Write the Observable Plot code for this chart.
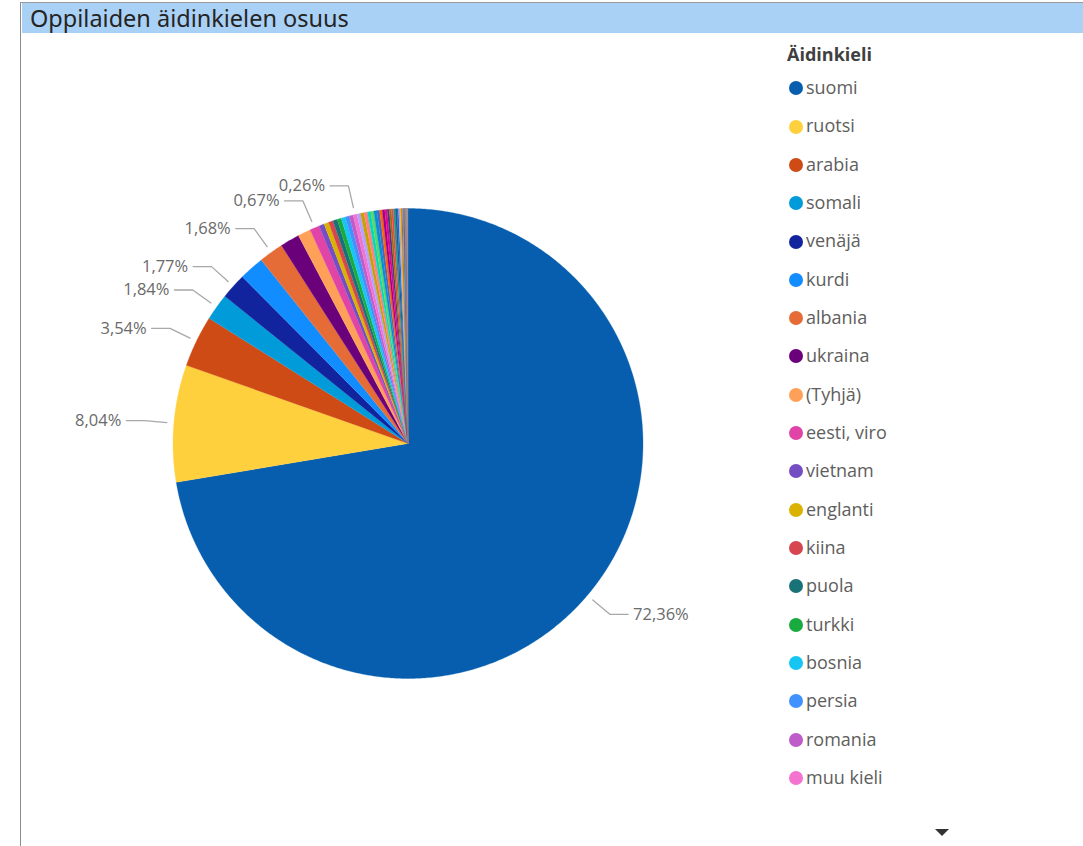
<!DOCTYPE html>
<html><head><meta charset="utf-8">
<script src="https://cdn.jsdelivr.net/npm/d3@7"></script>
<script src="https://cdn.jsdelivr.net/npm/@observablehq/plot@0.6"></script>
<style>
html,body{margin:0;padding:0;background:#fff;width:1083px;height:846px;overflow:hidden;font-family:"Segoe UI","Open Sans",sans-serif;}
#frame{position:absolute;left:20px;top:2px;width:1063px;height:844px;border-left:1.5px solid #8c8c8c;border-top:1px solid #9a9a9a;box-sizing:border-box;}
#titlebar{position:absolute;left:22px;top:3px;right:0;height:30px;background:#A9D1F6;}
#title{position:absolute;left:30px;top:3px;height:30px;line-height:31px;font-size:23.5px;color:#252423;font-family:"DIN","Noto Sans",sans-serif;}
#chart{position:absolute;left:0;top:40px;}
.lg-title{position:absolute;left:787px;top:41px;font-size:18px;font-weight:bold;color:#404040;line-height:26px;}
.lg-item{position:absolute;left:789px;height:24px;line-height:24px;font-size:18px;color:#605E5C;white-space:nowrap;}
.lg-dot{display:inline-block;width:14px;height:14px;border-radius:50%;vertical-align:middle;margin-right:3px;position:relative;top:-1px;}
#arrow{position:absolute;left:935px;top:829px;width:0;height:0;border-left:7px solid transparent;border-right:7px solid transparent;border-top:7px solid #333;}
</style></head>
<body>
<div id="frame"></div>
<div id="titlebar"></div>
<div id="title">Oppilaiden äidinkielen osuus</div>
<div id="chart"></div>
<div id="legend"></div>
<div id="arrow"></div>
<script>
// Categories (legend order = slice order, clockwise from 12 o'clock)
const names = ["suomi","ruotsi","arabia","somali","venäjä","kurdi","albania","ukraina","(Tyhjä)","eesti, viro","vietnam","englanti","kiina","puola","turkki","bosnia","persia","romania","muu kieli",
  "thai","espanja","saksa","ranska","tigrinja","dari","pashto","urdu","bengali","nepali","tagalog","unkari","liettua","latvia","bulgaria","kreikka","italia","japani","portugali","hindi","amhara","swahili","kantoni","kroatia","serbia","slovakki","tšekki","hollanti","tamili"];
// Shares in percent
const values = [72.36,8.04,3.54,1.84,1.77,1.72,1.68,1.33,0.88,0.67,0.36,0.33,0.31,0.30,0.29,0.28,0.28,0.27,0.26,
  0.25,0.24,0.24,0.22,0.21,0.21,0.19,0.18,0.17,0.16,0.15,0.14,0.13,0.13,0.12,0.11,0.10,0.09,0.08,0.07,0.06,0.06,0.05,0.04,0.03,0.02,0.02,0.01,0.01];
const colors = ["#075EAE","#FFD03D","#CF4B16","#009BD8","#12239E","#118DFF","#E66C37","#6B007B","#FFA058","#E044A7","#744EC2","#D9B300","#D64550","#197278","#1AAB40","#15C6F4","#4092FF","#BE5DC9","#F472D0",
  "#B5A1FF","#C4A200","#FF8080","#00DBBC","#5BD667","#0091D5","#4668C5","#FF6300","#99008A","#EC008C","#533285","#99700A","#FF4141","#1F9A85","#255A91","#0D6ABF","#B3A0E5","#E8B700","#C85A1E","#53A8D6","#7C2C8E","#2D9B5E","#E15A7F","#1A4FA0","#F2A43B","#6FC7C0","#9E2A5C","#8CBF3F","#D07BE0"];
// Slices that carry a data label
const labelNames = ["suomi","ruotsi","arabia","somali","venäjä","albania","eesti, viro","muu kieli"];
const legendCount = 19;

const total = d3.sum(values);
let acc = 0;
const slices = names.map((n, i) => {
  const a0 = acc / total * 2 * Math.PI; acc += values[i];
  const a1 = acc / total * 2 * Math.PI;
  return {name: n, value: values[i], a0, a1};
});
const poly = [];
for (const s of slices) {
  poly.push({name: s.name, x: 0, y: 0});
  const n = Math.max(2, Math.ceil((s.a1 - s.a0) / (Math.PI / 360)));
  for (let k = 0; k <= n; k++) {
    const a = s.a0 + (s.a1 - s.a0) * k / n;
    poly.push({name: s.name, x: Math.sin(a), y: Math.cos(a)});
  }
}
const R1 = 1.03, R2 = 1.125, H = 0.078;
const fmt = v => d3.format(".2f")(v).replace(".", ",") + "%";
const leaders = [], texts = [];
for (const s of slices.filter(s => labelNames.includes(s.name))) {
  const m = (s.a0 + s.a1) / 2;
  const side = Math.sin(m) < 0 ? -1 : 1;
  const p2x = R2 * Math.sin(m), p2y = R2 * Math.cos(m);
  leaders.push({name: s.name, x: R1 * Math.sin(m), y: R1 * Math.cos(m)},
               {name: s.name, x: p2x, y: p2y},
               {name: s.name, x: p2x + side * H, y: p2y});
  texts.push({name: s.name, x: p2x + side * H, y: p2y, side, label: fmt(s.value)});
}

const chart = Plot.plot({
  width: 780, height: 806,
  marginLeft: 172.5, marginRight: 137.5, marginTop: 168, marginBottom: 168,
  x: {domain: [-1, 1], axis: null},
  y: {domain: [-1, 1], axis: null},
  color: {domain: names, range: colors},
  style: {background: "transparent", overflow: "visible", fontFamily: "'Segoe UI','Open Sans',sans-serif"},
  marks: [
    Plot.line(poly, {x: "x", y: "y", z: "name", fill: "name", stroke: "name", strokeWidth: 0.3, curve: "linear"}),
    Plot.line(leaders, {x: "x", y: "y", z: "name", stroke: "#A8A8A8", strokeWidth: 1.3}),
    Plot.text(texts.filter(d => d.side < 0), {x: "x", y: "y", text: "label", textAnchor: "end", dx: -5, fill: "#6A6A6A", fontSize: 16.5}),
    Plot.text(texts.filter(d => d.side > 0), {x: "x", y: "y", text: "label", textAnchor: "start", dx: 5, fill: "#6A6A6A", fontSize: 16.5})
  ]
});
document.getElementById("chart").appendChild(chart);

const lg = document.getElementById("legend");
const t = document.createElement("div");
t.className = "lg-title"; t.textContent = "Äidinkieli";
lg.appendChild(t);
for (let i = 0; i < legendCount; i++) {
  const it = document.createElement("div");
  it.className = "lg-item";
  it.style.top = (87 - 12 + i * 38.33) + "px";
  const dot = document.createElement("span");
  dot.className = "lg-dot"; dot.style.background = colors[i];
  it.appendChild(dot);
  it.appendChild(document.createTextNode(names[i]));
  lg.appendChild(it);
}
</script>
</body></html>
